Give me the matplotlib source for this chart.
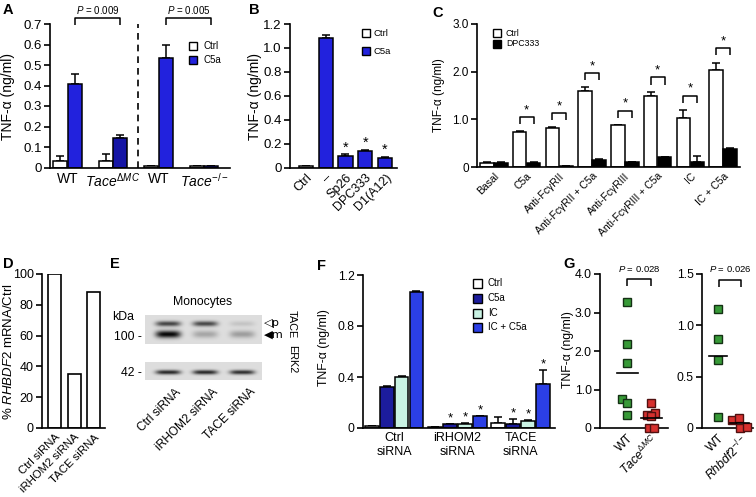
import numpy as np
import matplotlib
matplotlib.use("Agg")
import matplotlib.pyplot as plt
from matplotlib.patches import Rectangle

plt.rcParams['font.family'] = ['Liberation Sans', 'DejaVu Sans']
plt.rcParams['mathtext.fontset'] = 'custom'
plt.rcParams['mathtext.rm'] = 'Liberation Sans'
plt.rcParams['mathtext.it'] = 'Liberation Sans:italic'
plt.rcParams['mathtext.bf'] = 'Liberation Sans:bold'

# ---------------- data ----------------
# Panel A
A_groups = ['WT', r'$\it{Tace}^{\Delta MC}$', 'WT', r'$\it{Tace}^{-/-}$']
A_ctrl = [0.032, 0.032, 0.008, 0.008]
A_ctrl_err = [0.026, 0.033, 0.0, 0.0]
A_c5a = [0.409, 0.142, 0.534, 0.008]
A_c5a_err = [0.049, 0.017, 0.066, 0.0]
A_pvals = ['0.009', '0.005']
A_yticks = [0, 0.1, 0.2, 0.3, 0.4, 0.5, 0.6, 0.7]

# Panel B
B_labels = ['Ctrl', '–', 'Sp26', 'DPC333', 'D1(A12)']
B_vals = [0.015, 1.08, 0.10, 0.135, 0.08]
B_err = [0.0, 0.025, 0.01, 0.01, 0.01]
B_is_c5a = [False, True, True, True, True]
B_star = [False, False, True, True, True]
B_yticks = [0, 0.2, 0.4, 0.6, 0.8, 1.0, 1.2]

# Panel C
C_labels = ['Basal', 'C5a', 'Anti-FcγRII', 'Anti-FcγRII + C5a', 'Anti-FcγRIII',
            'Anti-FcγRIII + C5a', 'IC', 'IC + C5a']
C_ctrl = [0.08, 0.73, 0.81, 1.60, 0.875, 1.50, 1.02, 2.04]
C_ctrl_err = [0.02, 0.02, 0.02, 0.07, 0.01, 0.08, 0.18, 0.15]
C_dpc = [0.09, 0.09, 0.03, 0.15, 0.10, 0.20, 0.11, 0.38]
C_dpc_err = [0.01, 0.01, 0.0, 0.01, 0.01, 0.01, 0.12, 0.01]
C_star = [False, True, True, True, True, True, True, True]
C_yticks = [0, 1.0, 2.0, 3.0]

# Panel D
D_labels = ['Ctrl siRNA', 'iRHOM2 siRNA', 'TACE siRNA']
D_vals = [100, 35, 88]
D_yticks = [0, 20, 40, 60, 80, 100]

# Panel E (band intensities, relative)
E_lanes = ['Ctrl siRNA', 'iRHOM2 siRNA', 'TACE siRNA']
E_tace_p = [0.72, 0.70, 0.12]
E_tace_m = [1.00, 0.26, 0.30]
E_erk2 = [0.85, 0.85, 0.82]

# Panel F
F_groups = ['Ctrl\nsiRNA', 'iRHOM2\nsiRNA', 'TACE\nsiRNA']
F_series = ['Ctrl', 'C5a', 'IC', 'IC + C5a']
F_ctrl = [0.015, 0.01, 0.04]
F_ctrl_err = [0.0, 0.0, 0.045]
F_c5a = [0.32, 0.03, 0.03]
F_c5a_err = [0.006, 0.005, 0.04]
F_ic = [0.40, 0.035, 0.055]
F_ic_err = [0.006, 0.005, 0.008]
F_icc5a = [1.07, 0.094, 0.345]
F_icc5a_err = [0.006, 0.004, 0.11]
F_ctrl_star = [False, False, False]
F_c5a_star = [False, True, True]
F_ic_star = [False, True, True]
F_icc5a_star = [False, True, True]
F_yticks = [0, 0.4, 0.8, 1.2]

# Panel G
G1_labels = ['WT', r'$\it{Tace}^{\Delta MC}$']
G1_wt = [3.26, 2.17, 1.68, 0.75, 0.66, 0.35]
G1_ko = [0.66, 0.40, 0.33, 0.31, 0.0, 0.0]
G1_means = [1.44, 0.25]
G1_p = '0.028'
G1_yticks = [0, 1.0, 2.0, 3.0, 4.0]
G2_labels = ['WT', r'$\it{Rhbdf2}^{-/-}$']
G2_wt = [1.16, 0.87, 0.66, 0.11]
G2_ko = [0.08, 0.10, 0.0, 0.01]
G2_means = [0.70, 0.05]
G2_p = '0.026'
G2_yticks = [0, 0.5, 1.0, 1.5]

# ---------------- style ----------------
BLUE = '#2222dd'
BLUE_DARK = '#1515a5'
NAVY = '#1c1c9c'
MINT = '#c9f2e3'
BLUE_F = '#2b3fe6'
GREEN = '#379a37'
RED = '#d6302e'

W, H = 756, 497
fig = plt.figure(figsize=(W / 100, H / 100), dpi=100)


def axpx(x0, x1, yt, yb):
    return fig.add_axes([x0 / W, (H - yb) / H, (x1 - x0) / W, (yb - yt) / H])


def style(ax, fs=8):
    for s in ['top', 'right']:
        ax.spines[s].set_visible(False)
    for s in ['left', 'bottom']:
        ax.spines[s].set_linewidth(1.2)
    ax.tick_params(axis='y', direction='out', length=4, width=1.2, labelsize=fs, pad=2)
    ax.tick_params(axis='x', length=0, labelsize=fs, pad=3)
    ax.set_facecolor('none')


def ftext(x, y, s, **kw):
    return fig.text(x / W, 1 - y / H, s, **kw)


def legend_px(labels, colors, x, ys, size, fs, tx):
    for label, color, y in zip(labels, colors, ys):
        fig.add_artist(Rectangle((x / W, 1 - (y + size / 2) / H), size / W, size / H,
                                 transform=fig.transFigure, facecolor=color,
                                 edgecolor='black', lw=1.0))
        ftext(tx, y, label, fontsize=fs, va='center', ha='left')


def bracket(ax, x0, x1, ytop, leg, lw=1.1):
    ax.plot([x0, x0, x1, x1], [ytop - leg, ytop, ytop, ytop - leg], color='black',
            lw=lw, clip_on=False, solid_capstyle='butt')


def upbars(ax, x, h, err, w, color):
    x = np.asarray(x, dtype=float)
    ax.bar(x, h, w, color=color, edgecolor='black', linewidth=1.1, zorder=2)
    ax.errorbar(x, h, yerr=[np.zeros(len(h)), err], fmt='none', ecolor='black',
                elinewidth=1.1, capsize=3.2, capthick=1.1, zorder=1)


def ylabels(ax, ticks, fmt):
    ax.set_yticks(ticks)
    ax.set_yticklabels([('0' if t == 0 else fmt.format(t)) for t in ticks])


def panel_letter(x, y, s):
    ftext(x, y, s, fontsize=10.5, fontweight='bold', va='baseline', ha='left')


TNF = 'TNF-α (ng/ml)'

# ---------------- Panel A ----------------
axA = axpx(50, 230, 24, 167.5)
style(axA, 9.5)
xa = np.arange(len(A_groups))
upbars(axA, xa - 0.16, A_ctrl, A_ctrl_err, 0.31, 'white')
upbars(axA, xa + 0.16, A_c5a, A_c5a_err, 0.31, [BLUE, BLUE_DARK, BLUE, BLUE])
axA.set_xlim(-0.385, 3.57)
axA.set_ylim(0, 0.7)
ylabels(axA, A_yticks, '{:.1f}')
axA.set_xticks(xa)
axA.set_xticklabels(A_groups, fontsize=10)
axA.axvline(1.54, color='black', lw=1.2, ls=(0, (4, 3)))
for i, p in enumerate(A_pvals):
    g0, g1 = 2 * i, 2 * i + 1
    bracket(axA, g0 + 0.16, g1 + 0.16, 0.728, 0.034)
    axA.text((g0 + g1) / 2 + 0.16, 0.768, r'$\it{P}$ = ' + p, fontsize=7,
             ha='center', va='center', clip_on=False)
ftext(8, 97, TNF, rotation=90, fontsize=10, ha='center', va='center')
legend_px(['Ctrl', 'C5a'], ['white', BLUE], 189, [46, 60], 8.5, 7, 203)
panel_letter(3, 14, 'A')

# ---------------- Panel B ----------------
axB = axpx(290, 397, 24, 167.5)
style(axB, 9.5)
xb = np.arange(len(B_labels))
upbars(axB, xb, B_vals, B_err, 0.72, [BLUE if c else 'white' for c in B_is_c5a])
for x, v, e, s in zip(xb, B_vals, B_err, B_star):
    if s:
        axB.text(x, v + e + 0.0, '*', fontsize=10.5, ha='center', va='bottom')
axB.set_xlim(-0.8, 4.6)
axB.set_ylim(0, 1.2)
ylabels(axB, B_yticks, '{:.1f}')
axB.set_xticks(xb)
axB.set_xticklabels(B_labels, rotation=45, ha='right', rotation_mode='anchor', fontsize=9)
ftext(255, 97, TNF, rotation=90, fontsize=10, ha='center', va='center')
legend_px(['Ctrl', 'C5a'], ['white', BLUE], 362, [33, 51], 8, 6.8, 374)
panel_letter(249, 14, 'B')

# ---------------- Panel C ----------------
axC = axpx(477, 740, 24, 167)
style(axC, 8.5)
xc = np.arange(len(C_labels))
upbars(axC, xc - 0.215, C_ctrl, C_ctrl_err, 0.41, 'white')
upbars(axC, xc + 0.215, C_dpc, C_dpc_err, 0.41, 'black')
for x, v, e, s in zip(xc, C_ctrl, C_ctrl_err, C_star):
    if s:
        top = v + e + 0.3
        bracket(axC, x - 0.215, x + 0.215, top, 0.15)
        axC.text(x, top + 0.02, '*', fontsize=9.5, ha='center', va='bottom')
axC.set_xlim(-0.52, 7.52)
axC.set_ylim(0, 3.0)
ylabels(axC, C_yticks, '{:.1f}')
axC.set_xticks(xc)
axC.set_xticklabels(C_labels, rotation=45, ha='right', rotation_mode='anchor', fontsize=7.5)
ftext(439, 95, TNF, rotation=90, fontsize=8.5, ha='center', va='center')
legend_px(['Ctrl', 'DPC333'], ['white', 'black'], 493, [33, 44], 8, 6.3, 506)
panel_letter(432, 17, 'C')

# ---------------- Panel D ----------------
axD = axpx(42, 105, 274, 428)
style(axD, 9)
xd = np.arange(len(D_labels))
axD.bar(xd, D_vals, 0.67, color='white', edgecolor='black', linewidth=1.2)
axD.set_xlim(-0.64, 2.58)
axD.set_ylim(0, 100)
axD.set_yticks(D_yticks)
axD.set_xticks(xd)
axD.set_xticklabels(D_labels, rotation=45, ha='right', rotation_mode='anchor', fontsize=8.2)
ftext(9, 352, r'% $\it{RHBDF2}$ mRNA/Ctrl', rotation=90, fontsize=9.5, ha='center', va='center')
panel_letter(3, 268, 'D')

# ---------------- Panel E ----------------
lane_x = [23, 60, 97]


def blot(ax, nrows, bands):
    ncols = 117
    yy, xx = np.mgrid[0:nrows * 2, 0:ncols * 2] / 2.0
    img = np.full(yy.shape, 0.87)
    for yc, sy, inten in bands:
        for lx, a in zip(lane_x, inten):
            prof = np.exp(-((xx - lx) / 12.5) ** 4) * np.exp(-((yy - yc) / sy) ** 2)
            img -= 0.85 * a * prof
    img = np.clip(img, 0.03, 1)
    ax.imshow(img, cmap='gray', vmin=0, vmax=1, aspect='auto', interpolation='bilinear')
    ax.axis('off')


axE1 = axpx(145, 262, 315, 344)
blot(axE1, 29, [(8.5, 2.6, E_tace_p), (19.0, 3.6, E_tace_m)])
axE2 = axpx(145, 262, 362, 380)
blot(axE2, 18, [(10.0, 2.2, E_erk2)])
ftext(203, 302, 'Monocytes', fontsize=8.8, ha='center', va='center')
ftext(123, 317, 'kDa', fontsize=8.8, ha='center', va='center')
ftext(142, 337, '100 -', fontsize=8.8, ha='right', va='center')
ftext(142, 373, '42 -', fontsize=8.8, ha='right', va='center')
ftext(264, 323, '◁p', fontsize=8.2, ha='left', va='center', family=['DejaVu Sans'])
ftext(264, 335, '◀m', fontsize=8.2, ha='left', va='center', family=['DejaVu Sans'])
ftext(292, 324, 'TACE', fontsize=7.8, rotation=270, ha='center', va='center')
ftext(292, 359, 'ERK2', fontsize=7.8, rotation=270, ha='center', va='center')
for lx, lab in zip(lane_x, E_lanes):
    ftext(145 + lx + 7, 386, lab, fontsize=8.6, rotation=45, ha='right', va='top',
          rotation_mode='anchor')
panel_letter(110, 268, 'E')

# ---------------- Panel F ----------------
axF = axpx(363, 555, 275, 428)
style(axF, 8.8)
xf = np.arange(len(F_groups))
f_vals = [F_ctrl, F_c5a, F_ic, F_icc5a]
f_errs = [F_ctrl_err, F_c5a_err, F_ic_err, F_icc5a_err]
f_stars = [F_ctrl_star, F_c5a_star, F_ic_star, F_icc5a_star]
f_cols = ['white', NAVY, MINT, BLUE_F]
for k in range(4):
    xs = xf + (k - 1.5) * 0.236
    upbars(axF, xs, f_vals[k], f_errs[k], 0.22, f_cols[k])
    for x, v, e, s in zip(xs, f_vals[k], f_errs[k], f_stars[k]):
        if s:
            axF.text(x, v + e - 0.005, '*', fontsize=9.5, ha='center', va='bottom')
axF.set_xlim(-0.49, 2.54)
axF.set_ylim(0, 1.2)
ylabels(axF, F_yticks, '{:.1f}')
axF.set_xticks(xf)
axF.set_xticklabels(F_groups, fontsize=9, linespacing=1.25)
ftext(324, 348, TNF, rotation=90, fontsize=8.8, ha='center', va='center')
legend_px(F_series, f_cols, 473, [283, 298, 313, 327], 9, 7, 488)
panel_letter(317, 270, 'F')

# ---------------- Panel G ----------------
G1_wt_dx = [0, 0, 0, -0.23, 0, 0]
G1_ko_dx = [0, 0.15, -0.2, 0, -0.08, 0.13]
G2_wt_dx = [0, 0, 0, 0]
G2_ko_dx = [-0.38, -0.05, 0, 0.32]


def gpanel(ax, wt, ko, wdx, kdx, means, p, labels, yticks, ymax, xlim, br, ptext_y, brtop, brleg):
    style(ax, 8.8)
    ax.plot(np.array(wdx) + 0, wt, 's', ms=6.3, mfc=GREEN, mec='#143014', mew=1.0,
            clip_on=False, zorder=3, ls='none')
    ax.plot(np.array(kdx) + 1, ko, 's', ms=6.3, mfc=RED, mec='#501010', mew=1.0,
            clip_on=False, zorder=3, ls='none')
    for x, m in zip([0, 1], means):
        ax.plot([x - 0.43, x + 0.43], [m, m], color='black', lw=1.2, zorder=4)
    ax.set_xlim(*xlim)
    ax.set_ylim(0, ymax)
    ylabels(ax, yticks, '{:.1f}')
    ax.set_xticks([0, 1])
    ax.set_xticklabels(labels, rotation=45, ha='right', rotation_mode='anchor', fontsize=8.8)
    bracket(ax, br[0], br[1], brtop, brleg)
    ax.text((br[0] + br[1]) / 2, ptext_y, r'$\it{P}$ = ' + p, fontsize=6.8,
            ha='center', va='center', clip_on=False)


axG1 = axpx(600, 668, 274, 428)
gpanel(axG1, G1_wt, G1_ko, G1_wt_dx, G1_ko_dx, G1_means, G1_p, G1_labels, G1_yticks,
       4.0, (-1.15, 1.7), (0, 1), 4.12, 3.86, 0.18)
axG2 = axpx(702, 753, 274, 428)
gpanel(axG2, G2_wt, G2_ko, G2_wt_dx, G2_ko_dx, G2_means, G2_p, G2_labels, G2_yticks,
       1.5, (-0.73, 1.6), (0.05, 1.05), 1.545, 1.444, 0.068)
ftext(568, 350, TNF, rotation=90, fontsize=8.8, ha='center', va='center')
panel_letter(563, 268, 'G')

fig.savefig('out.png', dpi=100)
